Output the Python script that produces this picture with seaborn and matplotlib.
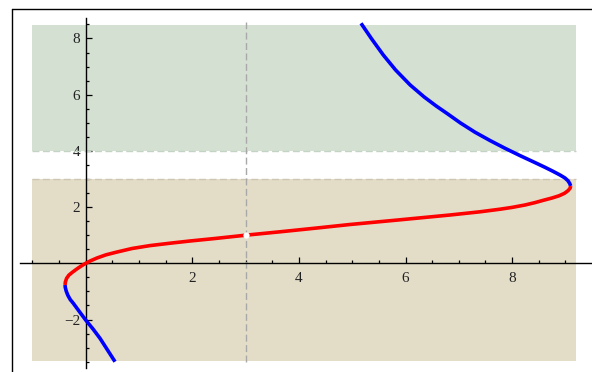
import numpy as np
import pandas as pd
import matplotlib
matplotlib.use("Agg")
import matplotlib.pyplot as plt
import seaborn as sns
from matplotlib.lines import Line2D
from matplotlib.ticker import FixedLocator

# ---- data ----
blue_low_x = [0.550, 0.409, 0.268, 0.137, 0.0, -0.113, -0.233, -0.291, -0.336, -0.366, -0.383, -0.388]
blue_low_y = [-3.502, -3.085, -2.669, -2.338, -2.02, -1.733, -1.423, -1.288, -1.135, -0.986, -0.861, -0.772]

red_x = [-0.388, -0.381, -0.358, -0.317, -0.263, -0.201, -0.135, -0.069, 0.0, 0.090, 0.212,
         0.381, 0.582, 0.869, 1.206, 1.582, 1.957, 2.426, 3.0, 3.645, 4.302, 4.959, 5.897,
         6.835, 7.398, 7.773, 7.998, 8.242, 8.430, 8.585, 8.749, 8.880, 8.983, 9.053, 9.090, 9.099]
red_y = [-0.772, -0.658, -0.534, -0.423, -0.338, -0.249, -0.160, -0.078, 0.0, 0.089, 0.189,
         0.302, 0.399, 0.527, 0.630, 0.715, 0.794, 0.883, 1.0, 1.121, 1.249, 1.381, 1.548,
         1.719, 1.833, 1.925, 1.989, 2.075, 2.160, 2.242, 2.324, 2.402, 2.491, 2.591, 2.680, 2.751]

blue_up_x = [9.099, 9.081, 9.049, 8.992, 8.899, 8.767, 8.617, 8.430, 8.148, 7.867, 7.585,
             7.304, 7.032, 6.794, 6.576, 6.351, 6.088, 5.814, 5.583, 5.366, 5.165]
blue_up_y = [2.751, 2.840, 2.936, 3.036, 3.142, 3.274, 3.416, 3.584, 3.833, 4.093, 4.370,
             4.665, 4.993, 5.313, 5.598, 5.918, 6.345, 6.879, 7.413, 7.982, 8.541]

point_x = [3.0]
point_y = [1.0]

green_band = (4.0, 8.48)
beige_band = (-3.47, 3.0)
band_x = (-1.01, 9.19)
vline_x = 3.0

x_major = [2, 4, 6, 8]
x_labels = ["2", "4", "6", "8"]
y_major = [-2, 2, 4, 6, 8]
y_labels = ["\u22122", "2", "4", "6", "8"]

# ---- figure ----
sns.set_style("white")
plt.rcParams["font.family"] = ["Liberation Serif", "DejaVu Serif"]

fig = plt.figure(figsize=(5.92, 3.72), dpi=100)
ax = fig.add_axes([0, 0, 1, 1])
ax.set_xlim(-1.608, 9.499)
ax.set_ylim(-3.868, 9.370)
ax.patch.set_alpha(0)

# shaded bands
ax.fill_between(band_x, green_band[0], green_band[1], color="#d4e1d2", lw=0, zorder=0)
ax.fill_between(band_x, beige_band[0], beige_band[1], color="#e3ddc8", lw=0, zorder=0)
for yb, c in [(green_band[0], "#c4d4c4"), (beige_band[1], "#cdc6b2")]:
    ax.plot(band_x, [yb, yb], color=c, lw=1.0, dashes=(5, 2.5), zorder=1)

# vertical dashed line
ax.plot([vline_x, vline_x], [-3.5, 8.6], color="#a8a8a8", lw=1.0, dashes=(5, 2.5), zorder=1)

# curve
df_low = pd.DataFrame({"x": blue_low_x, "y": blue_low_y})
df_red = pd.DataFrame({"x": red_x, "y": red_y})
df_up = pd.DataFrame({"x": blue_up_x, "y": blue_up_y})
kw = dict(sort=False, estimator=None, lw=2.6, ax=ax)
sns.lineplot(data=df_low, x="x", y="y", color="#0000ff", zorder=3, **kw)
sns.lineplot(data=df_up, x="x", y="y", color="#0000ff", zorder=3, **kw)
sns.lineplot(data=df_red, x="x", y="y", color="#ff0000", zorder=4, **kw)
for line in ax.get_lines()[-3:]:
    line.set_solid_capstyle("butt")
    line.set_solid_joinstyle("round")
ax.plot(point_x, point_y, "o", color="white", ms=4.5, mec="none", zorder=5)

# axes through origin
for s in ["top", "right"]:
    ax.spines[s].set_visible(False)
ax.spines["bottom"].set_position(("data", 0))
ax.spines["left"].set_position(("data", 0))
ax.spines["bottom"].set_bounds(-1.23, 9.5)
ax.spines["left"].set_bounds(-3.73, 8.72)
for s in ["bottom", "left"]:
    ax.spines[s].set_color("black")
    ax.spines[s].set_linewidth(1.0)
    ax.spines[s].set_zorder(2)

ax.xaxis.set_major_locator(FixedLocator(x_major))
ax.xaxis.set_minor_locator(FixedLocator(list(np.arange(-1, 9.01, 0.5))))
ax.yaxis.set_major_locator(FixedLocator(y_major))
ax.yaxis.set_minor_locator(FixedLocator(list(np.arange(-3.5, 8.51, 0.5))))
ax.set_xticklabels(x_labels)
ax.set_yticklabels(y_labels)
ax.tick_params(which="both", direction="in", color="black", width=0.9,
               bottom=True, left=True, top=False, right=False,
               labelsize=11, labelcolor="#222222")
ax.tick_params(which="major", length=4.2)
ax.tick_params(which="minor", length=2.2)
ax.tick_params(axis="x", which="major", pad=6)
ax.tick_params(axis="y", which="major", pad=4)
ax.set_xlabel("")
ax.set_ylabel("")
ax.grid(False)

# outer frame (top and left)
fig.add_artist(Line2D([12 / 592, 1], [1 - 9 / 372, 1 - 9 / 372], color="black", lw=1.0,
                      transform=fig.transFigure))
fig.add_artist(Line2D([12 / 592, 12 / 592], [0, 1 - 9 / 372], color="black", lw=1.0,
                      transform=fig.transFigure))

fig.savefig("out.png", dpi=100)
